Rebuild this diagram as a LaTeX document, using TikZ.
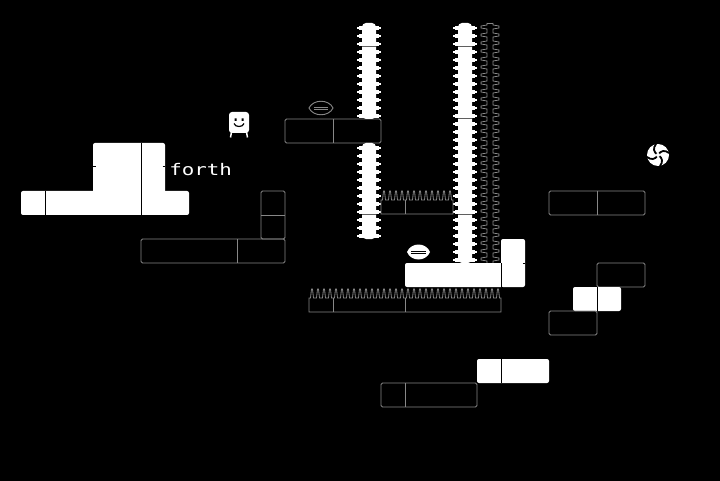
\documentclass[tikz,border=0pt]{standalone}
\usepackage{fontspec}
\newfontfamily\pixelfont{DejaVu Sans Mono}
\definecolor{ghostgray}{RGB}{135,135,135}
\definecolor{seamgray}{RGB}{95,95,95}
\tikzset{
    solid tile/.style={fill=white, rounded corners=2pt},
    ghost tile/.style={draw=ghostgray, line width=.9pt, rounded corners=1.5pt},
    ghost seam/.style={draw=ghostgray, line width=.9pt},
    seam/.style={draw=black, line width=1pt},
    spring/.style={draw=ghostgray, line width=.8pt},
}
\begin{document}
\begin{tikzpicture}[>=latex, x=1pt, y=-1pt]
\useasboundingbox (0,0) rectangle (720,481);
\fill[black] (0,0) rectangle (720,481);

% solid tiles, left
\fill[solid tile] (21,191) rectangle (189,215);
\fill[solid tile] (93,143) rectangle (165,195);
\draw[seam] (45,191)--(45,215);
\draw[seam] (141,143)--(141,215);
\draw[seam] (93,167)--(95.5,167) (162.5,167)--(165,167);
\node[white, anchor=base west, xscale=1.3, inner sep=0pt,
      font=\pixelfont\fontsize{16}{16}\selectfont] (forth) at (169,176) {forth};

% the little cube
\fill[white, rounded corners=3pt] (229,112) rectangle (249,133);
\draw[white, line width=1.5pt] (231.5,132)--(230.5,137.5) (246.5,132)--(247.5,137.5);
\fill[black] (234.5,118.5) rectangle (236.5,121) (241.5,118.5) rectangle (243.5,121);
\draw[black, line width=1.2pt] (234,123.5) .. controls (235,127.5) and (243,127.5) .. (244,123.5);

% ghost tiles
\draw[ghost tile] (285,119) rectangle (381,143);
\draw[ghost seam] (333,119)--(333,143);
\draw[ghost tile] (261,191) rectangle (285,239);
\draw[ghost seam] (261,215)--(285,215);
\draw[ghost tile] (141,239) rectangle (285,263);
\draw[ghost seam] (237,239)--(237,263);

% lens, ghost
\draw[ghost seam] (309,108) .. controls (313,99) and (329,99) .. (333,108)
                  .. controls (329,117) and (313,117) .. cycle;
\draw[ghost seam] (314,107)--(328,107) (314,109)--(328,109);

% spike columns
\foreach \cx/\ya/\yb in {369/23/119, 369/143/239, 465/23/263}
{
    \fill[white, rounded corners=4pt] (\cx-7,\ya) rectangle (\cx+7,\yb);
    \pgfmathsetmacro\ys{\ya+5}
    \pgfmathsetmacro\yn{\ya+13}
    \pgfmathsetmacro\ye{\yb-2}
    \foreach \y in {\ys,\yn,...,\ye}
    {
        \fill[white] (\cx-12,\y-1) rectangle (\cx+12,\y+1);
        \fill[white] (\cx-10,\y-1.8) rectangle (\cx+10,\y+1.8);
    }
}
\draw[seamgray, line width=1pt] (362,47)--(376,47) (362,215)--(376,215);
\draw[seamgray, line width=1pt] (458,47)--(472,47) (458,119)--(472,119) (458,215)--(472,215);

% vertical spring
\draw[spring] (487,23)--(493,23);
\draw[spring] (487,23) \foreach \i in {1,...,30} {-- ++(0,2) -- ++(-6,1) -- ++(0,2) -- ++(6,1) -- ++(0,2)};
\draw[spring] (493,23) \foreach \i in {1,...,30} {-- ++(0,2) -- ++(6,1) -- ++(0,2) -- ++(-6,1) -- ++(0,2)};

% springs
\draw[spring] (381,200) \foreach \i in {1,...,12} {-- ++(1.5,0) -- ++(1,-9) -- ++(1,0) -- ++(1,9) -- ++(1.5,0)}
    -- (453,214) -- (381,214) -- cycle;
\draw[ghost seam] (405,200)--(405,214);
\draw[spring] (309,298) \foreach \i in {1,...,32} {-- ++(1.5,0) -- ++(1,-9) -- ++(1,0) -- ++(1,9) -- ++(1.5,0)}
    -- (501,312) -- (309,312) -- cycle;
\draw[ghost seam] (333,298)--(333,312) (405,298)--(405,312);

% solid tiles, middle
\fill[solid tile] (405,263) rectangle (503,287);
\fill[solid tile] (501,239) rectangle (525,287);
\draw[seam] (501,263)--(501,287);
\draw[seam] (523,263)--(525,263);
\fill[white] (407,252) .. controls (411,242) and (426,242) .. (430,252)
             .. controls (426,262) and (411,262) .. cycle;
\draw[black, line width=1pt] (411,251)--(426,251) (411,253.5)--(426,253.5);

% right side
\draw[ghost tile] (549,191) rectangle (645,215);
\draw[ghost seam] (597,191)--(597,215);
\draw[ghost tile] (597,263) rectangle (645,287);
\fill[solid tile] (573,287) rectangle (621,311);
\draw[seam] (597,287)--(597,311);
\draw[ghost tile] (549,311) rectangle (597,335);
\fill[solid tile] (477,359) rectangle (549,383);
\draw[seam] (501,359)--(501,383);
\draw[ghost tile] (381,383) rectangle (477,407);
\draw[ghost seam] (405,383)--(405,407);

% swirl
\fill[white] (658,155) circle (11);
\foreach \a in {0,90,180,270}
{
    \draw[black, line width=1.8pt, rotate around={\a:(658,155)}]
        (658,155) .. controls (661,150) and (665,150) .. (669,153);
}
\fill[white] (658,155) circle (2);

\end{tikzpicture}
\end{document}
